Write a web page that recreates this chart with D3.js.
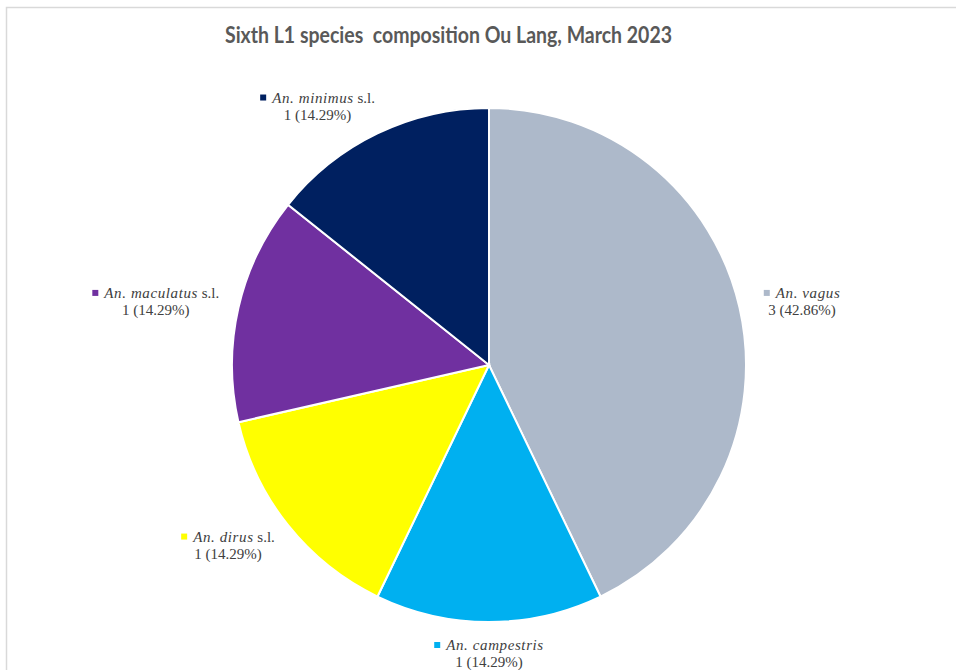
<!DOCTYPE html>
<html>
<head>
<meta charset="utf-8">
<script src="https://cdn.jsdelivr.net/npm/d3@7"></script>
<style>
  body { margin: 0; background: #fff; }
  svg { display: block; }
</style>
</head>
<body>
<svg id="chart" width="956" height="670"></svg>
<script>
// data
var species = ["An. vagus", "An. campestris", "An. dirus", "An. maculatus", "An. minimus"];
var suffixes = ["", "", " s.l.", " s.l.", " s.l."];
var counts = [3, 1, 1, 1, 1];
var colors = ["#ADB9CA", "#00B0F0", "#FFFF00", "#7030A0", "#002060"];
var title = "Sixth L1 species  composition Ou Lang, March 2023";

var svg = d3.select("#chart");
var cx = 489, cy = 365, radius = 257;

// chart frame
svg.append("rect")
    .attr("x", 6.5).attr("y", 7.5)
    .attr("width", 980).attr("height", 700)
    .attr("fill", "none")
    .attr("stroke", "#d9d9d9")
    .attr("stroke-width", 1.5);

svg.append("text")
    .attr("x", 448.5).attr("y", 43)
    .attr("text-anchor", "middle")
    .attr("font-family", "Lato, 'Open Sans', sans-serif")
    .attr("font-weight", "bold")
    .attr("font-size", 22)
    .attr("fill", "#595959")
    .attr("textLength", 447)
    .attr("lengthAdjust", "spacingAndGlyphs")
    .style("white-space", "pre")
    .text(title);

var total = d3.sum(counts);
var data = species.map(function(s, i) {
  return { name: s, suffix: suffixes[i], value: counts[i], color: colors[i] };
});

var pie = d3.pie().sort(null).value(function(d) { return d.value; });
var arc = d3.arc().innerRadius(0).outerRadius(radius);
var arcs = pie(data);

var root = svg.append("g").attr("transform", "translate(" + cx + "," + cy + ")");

root.selectAll("path.slice").data(arcs).enter().append("path")
    .classed("slice", true)
    .attr("d", arc)
    .attr("fill", function(d) { return d.data.color; })
    .attr("stroke", "#fff")
    .attr("stroke-width", 2);

// labels
var labelRadius = 288;
var fmt = d3.format(".2f");
var labels = root.selectAll("g.label").data(arcs).enter().append("g")
    .classed("label", true)
    .attr("font-family", "'Liberation Serif', 'Times New Roman', serif")
    .attr("font-size", 15)
    .attr("fill", "#404040");

labels.each(function(d) {
  var g = d3.select(this);
  var line1 = g.append("text").attr("y", 0);
  line1.append("tspan").attr("font-style", "italic")
      .attr("letter-spacing", 0.6).text(d.data.name);
  if (d.data.suffix) line1.append("tspan").text(d.data.suffix);
  var w1 = line1.node().getComputedTextLength();
  var markerGap = 12;
  var blockW = w1 + markerGap;
  line1.attr("x", markerGap - blockW / 2);
  g.append("rect")
      .attr("x", -blockW / 2).attr("y", -8)
      .attr("width", 6).attr("height", 6)
      .attr("fill", d.data.color);
  g.append("text")
      .attr("x", 0).attr("y", 17)
      .attr("text-anchor", "middle")
      .text(d.data.value + " (" + fmt(d.data.value / total * 100) + "%)");

  var mid = (d.startAngle + d.endAngle) / 2;
  var ax = labelRadius * Math.sin(mid);
  var ay = -labelRadius * Math.cos(mid);
  var bx;
  if (Math.abs(Math.sin(mid)) < 0.3) {
    bx = ax;
  } else if (Math.sin(mid) > 0) {
    bx = ax + blockW / 2 - 6;
  } else {
    bx = ax - blockW / 2 + 11;
  }
  g.attr("transform", "translate(" + bx + "," + (ay - 3) + ")");
});
</script>
</body>
</html>
